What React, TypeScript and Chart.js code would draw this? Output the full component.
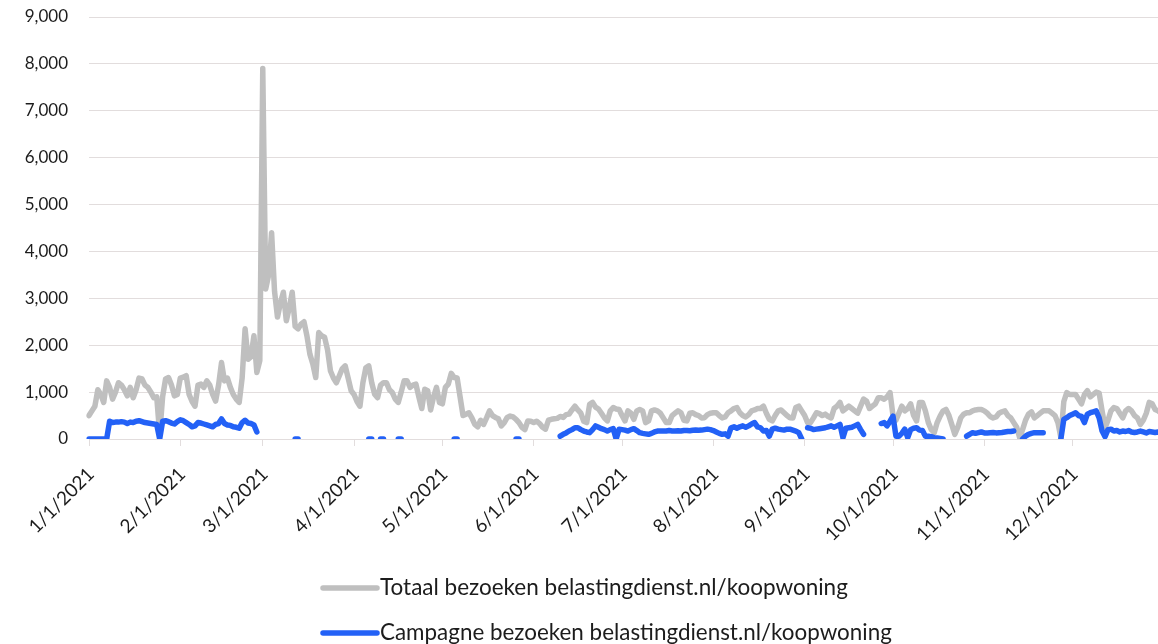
import { useEffect, useRef } from "react";
import { Chart, registerables } from "chart.js";

Chart.register(...registerables);

// Daily visits to belastingdienst.nl/koopwoning, 2021
const YEAR = 2021;
const MONTH_LENGTHS = [31, 28, 31, 30, 31, 30, 31, 31, 30, 31, 30, 31];

const totaalJan = [500, 600, 700, 1050, 950, 780, 1240, 1100, 850, 1000, 1200, 1150, 1050, 920, 1100, 880, 1050, 1300, 1280, 1150, 1100, 1000, 880, 900, 100, 900, 1280, 1310, 1150, 920, 950];
const totaalFeb = [1300, 1320, 1350, 950, 800, 700, 1150, 1170, 1100, 1240, 1150, 950, 810, 1150, 1630, 1240, 1300, 1100, 950, 850, 780, 1300, 2350, 1700, 1750, 2200, 1420, 1670];
const totaalMar = [7900, 3200, 3500, 4400, 3150, 2600, 2900, 3130, 2520, 2800, 3130, 2400, 2350, 2450, 2500, 2200, 1810, 1600, 1310, 2270, 2200, 2170, 1900, 1450, 1300, 1200, 1350, 1500, 1560, 1300, 1030];
const totaalApr = [950, 800, 700, 1200, 1520, 1560, 1200, 955, 880, 1150, 1200, 1200, 1050, 990, 850, 780, 1000, 1240, 1240, 1100, 1150, 1170, 900, 650, 1060, 1030, 620, 900, 1100, 780];
const totaalMay = [750, 1100, 1170, 1400, 1310, 1300, 900, 500, 530, 560, 450, 310, 260, 400, 310, 450, 600, 500, 460, 430, 280, 350, 460, 490, 470, 420, 350, 250, 200, 385, 380];
const totaalJun = [350, 380, 330, 250, 210, 400, 420, 430, 440, 480, 460, 520, 530, 620, 700, 620, 550, 380, 350, 740, 780, 680, 640, 550, 450, 385, 600, 670, 640, 630];
const totaalJul = [500, 385, 600, 550, 420, 600, 630, 600, 350, 385, 600, 620, 600, 550, 450, 350, 350, 500, 550, 600, 560, 400, 385, 550, 560, 520, 500, 450, 455, 520, 550];
const totaalAug = [560, 560, 500, 450, 470, 560, 600, 650, 670, 560, 500, 470, 520, 600, 620, 650, 650, 700, 550, 420, 385, 500, 600, 620, 560, 500, 455, 450, 670, 700, 600];
const totaalSep = [500, 350, 350, 450, 560, 540, 500, 530, 480, 450, 650, 700, 780, 600, 650, 700, 650, 600, 550, 700, 850, 810, 650, 700, 750, 880, 880, 850, 900, 990];
const totaalOct = [500, 400, 550, 700, 600, 650, 750, 500, 385, 780, 780, 600, 350, 200, 135, 350, 490, 600, 630, 500, 300, 100, 250, 450, 530, 560, 560, 600, 620, 630, 630];
const totaalNov = [600, 550, 480, 450, 470, 550, 580, 600, 500, 450, 350, 250, 30, 200, 400, 530, 580, 450, 500, 550, 600, 600, 600, 550, 500, 350, 30, 800, 990, 950];
const totaalDec = [950, 950, 850, 750, 950, 1030, 900, 950, 1000, 980, 600, 240, 400, 600, 670, 650, 550, 450, 600, 650, 600, 500, 450, 310, 400, 550, 780, 750, 630, 600, 550];

const totaalVisits = [
  ...totaalJan, ...totaalFeb, ...totaalMar, ...totaalApr, ...totaalMay, ...totaalJun,
  ...totaalJul, ...totaalAug, ...totaalSep, ...totaalOct, ...totaalNov, ...totaalDec,
];

// Campaign visits are only recorded on some days: each run is [first day of year (0-based), values]
const campagneRuns: [number, number[]][] = [
  [0, [0, 0, 0, 0, 0, 0, 0,
    380, 350, 360, 360, 370, 360, 330, 360, 350, 380, 390, 370, 350, 340, 330, 320, 310, 0,
    380, 390, 370, 340, 320, 370, 410, 390, 350, 310,
    260, 280, 350, 340, 320, 300, 280, 260, 310, 330,
    430, 330, 300, 290, 260, 250, 230, 350, 400, 340,
    330, 300, 150]],
  [70, [0, 0]],
  [95, [0, 0]],
  [99, [0, 0]],
  [105, [0, 0]],
  [124, [0, 0]],
  [145, [0, 0]],
  [160, [60, 100, 130, 170, 200, 240, 240, 200, 170, 150,
    135, 200, 280, 250, 220, 200, 170, 200, 220, 0,
    210, 200, 190, 170, 200, 220, 180, 135, 120, 110,
    100, 120, 150, 170, 170, 170, 170, 180, 170, 170,
    175, 170, 180, 180, 175, 185, 190, 185, 190, 200,
    210, 200, 180, 150, 120, 100, 110, 60, 240, 260,
    230, 260, 280, 250, 280, 320, 350, 260, 240, 170,
    180, 60, 210, 230, 210, 200, 190, 210, 210, 190,
    170, 135, 0]],
  [244, [240, 230, 200, 210, 220, 230, 240, 260, 280, 250, 280, 310, 30, 230, 240, 250, 280, 310, 200, 100]],
  [269, [330, 350, 280, 380, 490, 60, 60, 120, 210, 30, 200, 230, 240, 190, 180, 60, 60, 50, 30, 20, 10, 0]],
  [298, [60, 100, 135, 120, 135, 150, 130, 130, 135, 140, 130, 135, 140, 150, 160, 160, 170]],
  [317, [0, 60, 100, 120, 135, 135, 135, 135]],
  [330, [0, 420, 455, 500, 530, 560, 500, 480, 350, 530,
    560, 580, 600, 450, 170, 50, 200, 210, 170, 180,
    150, 170, 160, 180, 150, 140, 150, 170, 150, 130,
    160, 150, 140, 150, 140]],
];

const SERIES_TOTAAL = "Totaal bezoeken belastingdienst.nl/koopwoning";
const SERIES_CAMPAGNE = "Campagne bezoeken belastingdienst.nl/koopwoning";

const Y_MAX = 9000;
const Y_STEP = 1000;

const GRAY = "#bfbfbf";
const BLUE = "#2361f6";
const GRID = "#e2dddd";
const TEXT = "#1c1c1c";
const FONT = "Lato, 'Noto Sans', sans-serif";

function buildDayLabels(): string[] {
  const labels: string[] = [];
  MONTH_LENGTHS.forEach((len, m) => {
    for (let d = 1; d <= len; d++) labels.push(`${m + 1}/${d}/${YEAR}`);
  });
  return labels;
}

function buildCampagneSeries(total: number): (number | null)[] {
  const series: (number | null)[] = new Array(total).fill(null);
  for (const [start, values] of campagneRuns) {
    values.forEach((v, i) => {
      series[start + i] = v;
    });
  }
  return series;
}

// Draws the two-row legend below the axis labels
const stackedLegend = {
  id: "stackedLegend",
  afterDraw(chart: any) {
    const { ctx } = chart;
    const rows = [
      { label: SERIES_TOTAAL, color: GRAY, y: 588, width: 468 },
      { label: SERIES_CAMPAGNE, color: BLUE, y: 633, width: 512 },
    ];
    ctx.save();
    for (const row of rows) {
      ctx.strokeStyle = row.color;
      ctx.lineWidth = 5.5;
      ctx.lineCap = "round";
      ctx.beginPath();
      ctx.moveTo(323, row.y);
      ctx.lineTo(377, row.y);
      ctx.stroke();

      ctx.font = `20px ${FONT}`;
      const w = ctx.measureText(row.label).width;
      const size = (20 * row.width) / w;
      ctx.font = `${size.toFixed(2)}px ${FONT}`;
      ctx.fillStyle = TEXT;
      ctx.textBaseline = "middle";
      ctx.textAlign = "left";
      ctx.fillText(row.label, 380, row.y);
    }
    ctx.restore();
  },
};

export default function App() {
  const canvasRef = useRef<HTMLCanvasElement | null>(null);

  useEffect(() => {
    const canvas = canvasRef.current;
    if (!canvas) return;
    const labels = buildDayLabels();
    const campagne = buildCampagneSeries(labels.length);

    const chart = new Chart(canvas, {
      type: "line",
      data: {
        labels,
        datasets: [
          {
            label: SERIES_CAMPAGNE,
            data: campagne,
            borderColor: BLUE,
            backgroundColor: BLUE,
            borderWidth: 5.5,
            pointRadius: 0,
            tension: 0,
            spanGaps: false,
            borderJoinStyle: "round",
            borderCapStyle: "round",
            order: 0,
          },
          {
            label: SERIES_TOTAAL,
            data: totaalVisits,
            borderColor: GRAY,
            backgroundColor: GRAY,
            borderWidth: 5.5,
            pointRadius: 0,
            tension: 0,
            borderJoinStyle: "round",
            borderCapStyle: "round",
            order: 1,
          },
        ],
      },
      options: {
        responsive: false,
        devicePixelRatio: 1,
        animation: false,
        events: [],
        layout: { padding: { top: 17, right: 14, bottom: 0, left: 0 } },
        plugins: {
          legend: { display: false },
          tooltip: { enabled: false },
        },
        scales: {
          x: {
            type: "category",
            offset: false,
            border: { display: false },
            grid: {
              drawOnChartArea: false,
              drawTicks: true,
              tickLength: 7,
              color: GRID,
              lineWidth: 1,
            },
            ticks: {
              autoSkip: false,
              minRotation: 45,
              maxRotation: 45,
              padding: 17,
              labelOffset: 2,
              color: TEXT,
              font: { family: FONT, size: 19 },
            },
            afterBuildTicks: (scale: any) => {
              scale.ticks = scale.ticks.filter((t: any) => String(labels[t.value]).split("/")[1] === "1");
            },
            afterFit: (scale: any) => {
              scale.height = 205;
              scale.paddingLeft = 0;
              scale.paddingRight = 0;
            },
          },
          y: {
            min: 0,
            max: Y_MAX,
            border: { display: false },
            grid: { color: GRID, lineWidth: 1, drawTicks: false },
            ticks: {
              stepSize: Y_STEP,
              padding: 21,
              color: TEXT,
              font: { family: FONT, size: 17 },
              callback: (v: any) => Number(v).toLocaleString("en-US"),
            },
            afterFit: (scale: any) => {
              scale.width = 89;
              scale.paddingTop = 0;
              scale.paddingBottom = 0;
            },
          },
        },
      },
      plugins: [stackedLegend],
    });

    return () => chart.destroy();
  }, []);

  return (
    <div
      style={{
        position: "fixed",
        left: 0,
        top: 0,
        width: 1158,
        height: 644,
        overflow: "hidden",
        background: "#ffffff",
      }}
    >
      <canvas ref={canvasRef} width={1175} height={644} style={{ display: "block", width: 1175, height: 644 }} />
    </div>
  );
}
